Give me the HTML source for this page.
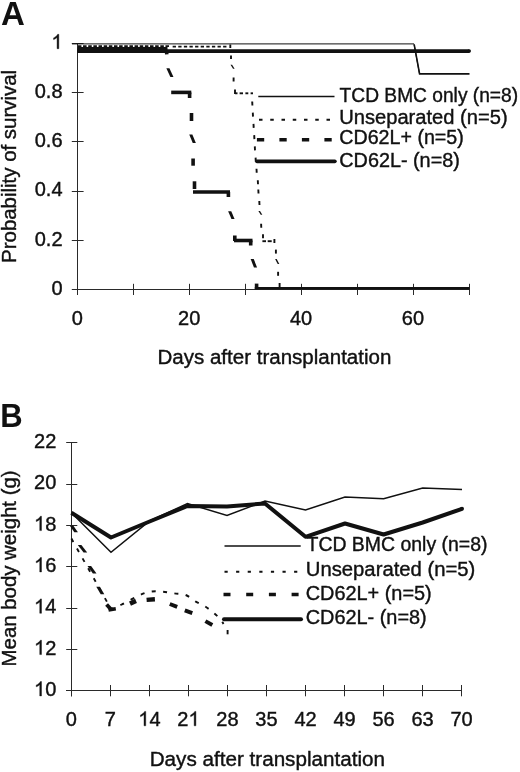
<!DOCTYPE html>
<html><head><meta charset="utf-8"><style>
html,body{margin:0;padding:0;background:#fff;}
svg{display:block;will-change:transform;font-family:"Liberation Sans", sans-serif;}
</style></head><body>
<svg width="520" height="772" viewBox="0 0 520 772">
<rect width="520" height="772" fill="#fff"/>
<line x1="77.50" y1="43.30" x2="77.50" y2="295.00" stroke="#2a2a2a" stroke-width="1.0" stroke-linecap="butt" />
<line x1="71.80" y1="289.50" x2="469.50" y2="289.50" stroke="#2a2a2a" stroke-width="1.0" stroke-linecap="butt" />
<line x1="71.80" y1="240.50" x2="83.60" y2="240.50" stroke="#2a2a2a" stroke-width="1.0" stroke-linecap="butt" />
<line x1="71.80" y1="191.50" x2="83.60" y2="191.50" stroke="#2a2a2a" stroke-width="1.0" stroke-linecap="butt" />
<line x1="71.80" y1="141.50" x2="83.60" y2="141.50" stroke="#2a2a2a" stroke-width="1.0" stroke-linecap="butt" />
<line x1="71.80" y1="92.50" x2="83.60" y2="92.50" stroke="#2a2a2a" stroke-width="1.0" stroke-linecap="butt" />
<line x1="71.80" y1="43.50" x2="83.60" y2="43.50" stroke="#2a2a2a" stroke-width="1.0" stroke-linecap="butt" />
<line x1="77.50" y1="283.80" x2="77.50" y2="295.00" stroke="#2a2a2a" stroke-width="1.0" stroke-linecap="butt" />
<line x1="133.50" y1="283.80" x2="133.50" y2="295.00" stroke="#2a2a2a" stroke-width="1.0" stroke-linecap="butt" />
<line x1="189.50" y1="283.80" x2="189.50" y2="295.00" stroke="#2a2a2a" stroke-width="1.0" stroke-linecap="butt" />
<line x1="245.50" y1="283.80" x2="245.50" y2="295.00" stroke="#2a2a2a" stroke-width="1.0" stroke-linecap="butt" />
<line x1="301.50" y1="283.80" x2="301.50" y2="295.00" stroke="#2a2a2a" stroke-width="1.0" stroke-linecap="butt" />
<line x1="357.50" y1="283.80" x2="357.50" y2="295.00" stroke="#2a2a2a" stroke-width="1.0" stroke-linecap="butt" />
<line x1="413.50" y1="283.80" x2="413.50" y2="295.00" stroke="#2a2a2a" stroke-width="1.0" stroke-linecap="butt" />
<line x1="469.50" y1="283.80" x2="469.50" y2="295.00" stroke="#2a2a2a" stroke-width="1.0" stroke-linecap="butt" />
<path d="M763 0H583V1147Q518 1085 412.5 1023T223 930V1104Q374 1175 487 1276T647 1472H763V0Z" transform="translate(51.38 48.7) scale(0.00977 -0.00977)" fill="#111" stroke="#111" stroke-width="41.0"/>
<text x="0" y="0" transform="translate(34.7 97.89999999999999)" font-size="20" font-weight="normal" fill="#111" stroke="#111" stroke-width="0.4" text-anchor="start" >0.8</text>
<text x="0" y="0" transform="translate(34.7 147.1)" font-size="20" font-weight="normal" fill="#111" stroke="#111" stroke-width="0.4" text-anchor="start" >0.6</text>
<text x="0" y="0" transform="translate(34.7 196.29999999999998)" font-size="20" font-weight="normal" fill="#111" stroke="#111" stroke-width="0.4" text-anchor="start" >0.4</text>
<text x="0" y="0" transform="translate(34.7 245.5)" font-size="20" font-weight="normal" fill="#111" stroke="#111" stroke-width="0.4" text-anchor="start" >0.2</text>
<text x="0" y="0" transform="translate(51.38 294.7)" font-size="20" font-weight="normal" fill="#111" stroke="#111" stroke-width="0.4" text-anchor="start" >0</text>
<text x="0" y="0" transform="translate(71.74 324.8)" font-size="20" font-weight="normal" fill="#111" stroke="#111" stroke-width="0.4" text-anchor="start" >0</text>
<text x="0" y="0" transform="translate(178.06 324.8)" font-size="20" font-weight="normal" fill="#111" stroke="#111" stroke-width="0.4" text-anchor="start" >20</text>
<text x="0" y="0" transform="translate(289.94 324.8)" font-size="20" font-weight="normal" fill="#111" stroke="#111" stroke-width="0.4" text-anchor="start" >40</text>
<text x="0" y="0" transform="translate(401.82 324.8)" font-size="20" font-weight="normal" fill="#111" stroke="#111" stroke-width="0.4" text-anchor="start" >60</text>
<text x="0" y="0" transform="translate(157.4 364.4)" font-size="20" font-weight="normal" fill="#111" stroke="#111" stroke-width="0.4" text-anchor="start" textLength="234" lengthAdjust="spacingAndGlyphs">Days after transplantation</text>
<text x="0" y="0" transform="translate(15.9 262.9) rotate(-90)" font-size="20" font-weight="normal" fill="#111" stroke="#111" stroke-width="0.4" text-anchor="start" textLength="193" lengthAdjust="spacingAndGlyphs">Probability of survival</text>
<text x="0" y="0" transform="translate(1 24.8)" font-size="33" font-weight="bold" fill="#111"  text-anchor="start" >A</text>
<polyline points="72.00,43.90 414.00,43.90 419.50,73.90" fill="none" stroke="#111" stroke-width="1.0" stroke-linecap="butt" stroke-linejoin="miter" />
<polyline points="414.20,44.60 419.60,73.85 469.50,73.85" fill="none" stroke="#111" stroke-width="1.6" stroke-linecap="butt" stroke-linejoin="miter" />
<line x1="77.30" y1="51.10" x2="469.20" y2="51.10" stroke="#111" stroke-width="3.6" stroke-linecap="butt" />
<circle cx="469.2" cy="51.1" r="1.8" fill="#111"/>
<line x1="77.50" y1="49.30" x2="167.50" y2="49.30" stroke="#111" stroke-width="4.8" stroke-linecap="butt" />
<line x1="171.20" y1="92.40" x2="191.30" y2="92.40" stroke="#111" stroke-width="3.6" stroke-linecap="butt" />
<line x1="193.00" y1="192.00" x2="230.00" y2="192.00" stroke="#111" stroke-width="3.6" stroke-linecap="butt" />
<line x1="234.00" y1="240.50" x2="252.50" y2="240.50" stroke="#111" stroke-width="3.6" stroke-linecap="butt" />
<line x1="254.80" y1="288.30" x2="469.50" y2="288.30" stroke="#111" stroke-width="2.6" stroke-linecap="butt" />
<line x1="166.50" y1="51.00" x2="166.80" y2="54.40" stroke="#111" stroke-width="3.6" stroke-linecap="butt" />
<polygon points="166.35,68.30 169.45,68.30 173.45,76.90 170.35,76.90" fill="#111"/>
<line x1="189.60" y1="92.40" x2="189.60" y2="98.00" stroke="#111" stroke-width="3.6" stroke-linecap="butt" />
<line x1="191.50" y1="113.00" x2="191.50" y2="121.00" stroke="#111" stroke-width="3.6" stroke-linecap="butt" />
<polygon points="189.25,134.40 192.35,134.40 195.85,143.00 192.75,143.00" fill="#111"/>
<line x1="193.10" y1="158.50" x2="193.10" y2="165.70" stroke="#111" stroke-width="3.6" stroke-linecap="butt" />
<line x1="194.50" y1="181.30" x2="194.50" y2="189.00" stroke="#111" stroke-width="3.6" stroke-linecap="butt" />
<line x1="228.40" y1="192.00" x2="228.40" y2="197.00" stroke="#111" stroke-width="3.6" stroke-linecap="butt" />
<polygon points="228.15,211.30 231.25,211.30 234.55,219.10 231.45,219.10" fill="#111"/>
<line x1="234.80" y1="235.50" x2="234.80" y2="241.00" stroke="#111" stroke-width="3.6" stroke-linecap="butt" />
<line x1="250.70" y1="240.50" x2="250.70" y2="245.50" stroke="#111" stroke-width="3.6" stroke-linecap="butt" />
<polygon points="250.65,259.00 253.75,259.00 257.05,267.60 253.95,267.60" fill="#111"/>
<line x1="256.60" y1="283.60" x2="256.60" y2="289.00" stroke="#111" stroke-width="3.6" stroke-linecap="butt" />
<line x1="77.90" y1="46.10" x2="169.00" y2="46.10" stroke="#111" stroke-width="1.6" stroke-linecap="butt" stroke-dasharray="3.55 1.6"/>
<line x1="172.65" y1="46.65" x2="228.50" y2="46.65" stroke="#111" stroke-width="1.9" stroke-linecap="butt" stroke-dasharray="3.3 2.31"/>
<line x1="230.30" y1="44.50" x2="230.30" y2="48.00" stroke="#111" stroke-width="1.9" stroke-linecap="butt" />
<line x1="231.00" y1="55.60" x2="231.00" y2="59.00" stroke="#111" stroke-width="1.9" stroke-linecap="butt" />
<polygon points="230.50,64.80 232.10,64.80 234.60,68.80 233.00,68.80" fill="#111"/>
<line x1="233.60" y1="77.50" x2="233.60" y2="81.50" stroke="#111" stroke-width="1.9" stroke-linecap="butt" />
<line x1="235.00" y1="89.60" x2="235.00" y2="94.00" stroke="#111" stroke-width="1.9" stroke-linecap="butt" />
<line x1="235.00" y1="93.30" x2="237.50" y2="93.30" stroke="#111" stroke-width="1.9" stroke-linecap="butt" />
<line x1="239.60" y1="93.30" x2="243.00" y2="93.30" stroke="#111" stroke-width="1.9" stroke-linecap="butt" />
<line x1="245.40" y1="93.30" x2="248.30" y2="93.30" stroke="#111" stroke-width="1.9" stroke-linecap="butt" />
<line x1="250.60" y1="93.30" x2="253.00" y2="93.30" stroke="#111" stroke-width="1.9" stroke-linecap="butt" />
<line x1="252.20" y1="101.50" x2="252.40" y2="105.50" stroke="#111" stroke-width="1.9" stroke-linecap="butt" />
<line x1="252.80" y1="112.60" x2="253.00" y2="116.60" stroke="#111" stroke-width="1.9" stroke-linecap="butt" />
<line x1="253.50" y1="123.90" x2="253.70" y2="127.90" stroke="#111" stroke-width="1.9" stroke-linecap="butt" />
<line x1="254.20" y1="135.10" x2="254.40" y2="139.10" stroke="#111" stroke-width="1.9" stroke-linecap="butt" />
<line x1="254.80" y1="146.40" x2="255.00" y2="150.40" stroke="#111" stroke-width="1.9" stroke-linecap="butt" />
<line x1="255.60" y1="157.60" x2="255.80" y2="161.60" stroke="#111" stroke-width="1.9" stroke-linecap="butt" />
<line x1="256.50" y1="168.80" x2="256.70" y2="172.80" stroke="#111" stroke-width="1.9" stroke-linecap="butt" />
<line x1="257.80" y1="180.30" x2="258.00" y2="184.30" stroke="#111" stroke-width="1.9" stroke-linecap="butt" />
<line x1="258.30" y1="189.50" x2="258.50" y2="193.50" stroke="#111" stroke-width="1.9" stroke-linecap="butt" />
<line x1="259.30" y1="201.00" x2="259.50" y2="205.00" stroke="#111" stroke-width="1.9" stroke-linecap="butt" />
<polygon points="258.40,211.00 260.00,211.00 262.30,214.80 260.70,214.80" fill="#111"/>
<line x1="261.10" y1="223.80" x2="261.30" y2="227.80" stroke="#111" stroke-width="1.9" stroke-linecap="butt" />
<line x1="263.00" y1="234.30" x2="263.00" y2="238.30" stroke="#111" stroke-width="1.9" stroke-linecap="butt" />
<line x1="262.40" y1="241.20" x2="266.00" y2="241.20" stroke="#111" stroke-width="1.9" stroke-linecap="butt" />
<line x1="267.70" y1="241.20" x2="271.70" y2="241.20" stroke="#111" stroke-width="1.9" stroke-linecap="butt" />
<line x1="274.40" y1="239.00" x2="274.40" y2="243.00" stroke="#111" stroke-width="1.9" stroke-linecap="butt" />
<line x1="275.90" y1="249.60" x2="275.90" y2="253.60" stroke="#111" stroke-width="1.9" stroke-linecap="butt" />
<polygon points="275.10,259.00 276.70,259.00 279.30,264.00 277.70,264.00" fill="#111"/>
<line x1="278.10" y1="271.80" x2="278.10" y2="275.80" stroke="#111" stroke-width="1.9" stroke-linecap="butt" />
<line x1="279.60" y1="283.00" x2="279.60" y2="288.00" stroke="#111" stroke-width="1.9" stroke-linecap="butt" />
<line x1="258.30" y1="96.40" x2="334.50" y2="96.40" stroke="#111" stroke-width="1.45" stroke-linecap="butt" />
<line x1="259.00" y1="119.80" x2="334.50" y2="119.80" stroke="#111" stroke-width="2.0" stroke-linecap="butt" stroke-dasharray="3.5 7.75"/>
<line x1="256.90" y1="139.70" x2="334.50" y2="139.70" stroke="#111" stroke-width="3.6" stroke-linecap="butt" stroke-dasharray="7.3 15.2"/>
<line x1="257.00" y1="161.30" x2="334.80" y2="161.30" stroke="#111" stroke-width="3.8" stroke-linecap="round" />
<text x="0" y="0" transform="translate(339.6 101.6)" font-size="20" font-weight="normal" fill="#111" stroke="#111" stroke-width="0.4" text-anchor="start" textLength="178.5" lengthAdjust="spacingAndGlyphs">TCD BMC only (n=8)</text>
<text x="0" y="0" transform="translate(339.2 124)" font-size="20" font-weight="normal" fill="#111" stroke="#111" stroke-width="0.4" text-anchor="start" textLength="168.5" lengthAdjust="spacingAndGlyphs">Unseparated (n=5)</text>
<text x="0" y="0" transform="translate(339.3 144.4)" font-size="20" font-weight="normal" fill="#111" stroke="#111" stroke-width="0.4" text-anchor="start" textLength="124.5" lengthAdjust="spacingAndGlyphs">CD62L+ (n=5)</text>
<text x="0" y="0" transform="translate(339.3 166.5)" font-size="20" font-weight="normal" fill="#111" stroke="#111" stroke-width="0.4" text-anchor="start" textLength="120.5" lengthAdjust="spacingAndGlyphs">CD62L- (n=8)</text>
<line x1="71.50" y1="442.50" x2="71.50" y2="696.30" stroke="#2a2a2a" stroke-width="1.0" stroke-linecap="butt" />
<line x1="66.00" y1="690.50" x2="461.90" y2="690.50" stroke="#2a2a2a" stroke-width="1.0" stroke-linecap="butt" />
<line x1="66.20" y1="690.50" x2="77.30" y2="690.50" stroke="#2a2a2a" stroke-width="1.0" stroke-linecap="butt" />
<line x1="66.20" y1="649.50" x2="77.30" y2="649.50" stroke="#2a2a2a" stroke-width="1.0" stroke-linecap="butt" />
<line x1="66.20" y1="608.50" x2="77.30" y2="608.50" stroke="#2a2a2a" stroke-width="1.0" stroke-linecap="butt" />
<line x1="66.20" y1="566.50" x2="77.30" y2="566.50" stroke="#2a2a2a" stroke-width="1.0" stroke-linecap="butt" />
<line x1="66.20" y1="525.50" x2="77.30" y2="525.50" stroke="#2a2a2a" stroke-width="1.0" stroke-linecap="butt" />
<line x1="66.20" y1="484.50" x2="77.30" y2="484.50" stroke="#2a2a2a" stroke-width="1.0" stroke-linecap="butt" />
<line x1="66.20" y1="442.50" x2="77.30" y2="442.50" stroke="#2a2a2a" stroke-width="1.0" stroke-linecap="butt" />
<line x1="71.50" y1="685.00" x2="71.50" y2="696.30" stroke="#2a2a2a" stroke-width="1.0" stroke-linecap="butt" />
<line x1="110.50" y1="685.00" x2="110.50" y2="696.30" stroke="#2a2a2a" stroke-width="1.0" stroke-linecap="butt" />
<line x1="149.50" y1="685.00" x2="149.50" y2="696.30" stroke="#2a2a2a" stroke-width="1.0" stroke-linecap="butt" />
<line x1="188.50" y1="685.00" x2="188.50" y2="696.30" stroke="#2a2a2a" stroke-width="1.0" stroke-linecap="butt" />
<line x1="227.50" y1="685.00" x2="227.50" y2="696.30" stroke="#2a2a2a" stroke-width="1.0" stroke-linecap="butt" />
<line x1="266.50" y1="685.00" x2="266.50" y2="696.30" stroke="#2a2a2a" stroke-width="1.0" stroke-linecap="butt" />
<line x1="305.50" y1="685.00" x2="305.50" y2="696.30" stroke="#2a2a2a" stroke-width="1.0" stroke-linecap="butt" />
<line x1="344.50" y1="685.00" x2="344.50" y2="696.30" stroke="#2a2a2a" stroke-width="1.0" stroke-linecap="butt" />
<line x1="383.50" y1="685.00" x2="383.50" y2="696.30" stroke="#2a2a2a" stroke-width="1.0" stroke-linecap="butt" />
<line x1="422.50" y1="685.00" x2="422.50" y2="696.30" stroke="#2a2a2a" stroke-width="1.0" stroke-linecap="butt" />
<line x1="461.50" y1="685.00" x2="461.50" y2="696.30" stroke="#2a2a2a" stroke-width="1.0" stroke-linecap="butt" />
<path d="M763 0H583V1147Q518 1085 412.5 1023T223 930V1104Q374 1175 487 1276T647 1472H763V0Z" transform="translate(34.05 695.9000000000001) scale(0.00977 -0.00977)" fill="#111" stroke="#111" stroke-width="41.0"/>
<text x="0" y="0" transform="translate(45.18 695.9000000000001)" font-size="20" font-weight="normal" fill="#111" stroke="#111" stroke-width="0.4" text-anchor="start" >0</text>
<path d="M763 0H583V1147Q518 1085 412.5 1023T223 930V1104Q374 1175 487 1276T647 1472H763V0Z" transform="translate(34.05 654.58) scale(0.00977 -0.00977)" fill="#111" stroke="#111" stroke-width="41.0"/>
<text x="0" y="0" transform="translate(45.18 654.58)" font-size="20" font-weight="normal" fill="#111" stroke="#111" stroke-width="0.4" text-anchor="start" >2</text>
<path d="M763 0H583V1147Q518 1085 412.5 1023T223 930V1104Q374 1175 487 1276T647 1472H763V0Z" transform="translate(34.05 613.2600000000001) scale(0.00977 -0.00977)" fill="#111" stroke="#111" stroke-width="41.0"/>
<text x="0" y="0" transform="translate(45.18 613.2600000000001)" font-size="20" font-weight="normal" fill="#111" stroke="#111" stroke-width="0.4" text-anchor="start" >4</text>
<path d="M763 0H583V1147Q518 1085 412.5 1023T223 930V1104Q374 1175 487 1276T647 1472H763V0Z" transform="translate(34.05 571.94) scale(0.00977 -0.00977)" fill="#111" stroke="#111" stroke-width="41.0"/>
<text x="0" y="0" transform="translate(45.18 571.94)" font-size="20" font-weight="normal" fill="#111" stroke="#111" stroke-width="0.4" text-anchor="start" >6</text>
<path d="M763 0H583V1147Q518 1085 412.5 1023T223 930V1104Q374 1175 487 1276T647 1472H763V0Z" transform="translate(34.05 530.6200000000001) scale(0.00977 -0.00977)" fill="#111" stroke="#111" stroke-width="41.0"/>
<text x="0" y="0" transform="translate(45.18 530.6200000000001)" font-size="20" font-weight="normal" fill="#111" stroke="#111" stroke-width="0.4" text-anchor="start" >8</text>
<text x="0" y="0" transform="translate(34.05 489.3)" font-size="20" font-weight="normal" fill="#111" stroke="#111" stroke-width="0.4" text-anchor="start" >20</text>
<text x="0" y="0" transform="translate(34.05 447.98)" font-size="20" font-weight="normal" fill="#111" stroke="#111" stroke-width="0.4" text-anchor="start" >22</text>
<text x="0" y="0" transform="translate(65.84 725.8)" font-size="20" font-weight="normal" fill="#111" stroke="#111" stroke-width="0.4" text-anchor="start" >0</text>
<text x="0" y="0" transform="translate(104.86 725.8)" font-size="20" font-weight="normal" fill="#111" stroke="#111" stroke-width="0.4" text-anchor="start" >7</text>
<path d="M763 0H583V1147Q518 1085 412.5 1023T223 930V1104Q374 1175 487 1276T647 1472H763V0Z" transform="translate(138.31 725.8) scale(0.00977 -0.00977)" fill="#111" stroke="#111" stroke-width="41.0"/>
<text x="0" y="0" transform="translate(149.44 725.8)" font-size="20" font-weight="normal" fill="#111" stroke="#111" stroke-width="0.4" text-anchor="start" >4</text>
<text x="0" y="0" transform="translate(177.33 725.8)" font-size="20" font-weight="normal" fill="#111" stroke="#111" stroke-width="0.4" text-anchor="start" >2</text>
<path d="M763 0H583V1147Q518 1085 412.5 1023T223 930V1104Q374 1175 487 1276T647 1472H763V0Z" transform="translate(188.45 725.8) scale(0.00977 -0.00977)" fill="#111" stroke="#111" stroke-width="41.0"/>
<text x="0" y="0" transform="translate(216.35 725.8)" font-size="20" font-weight="normal" fill="#111" stroke="#111" stroke-width="0.4" text-anchor="start" >28</text>
<text x="0" y="0" transform="translate(255.37 725.8)" font-size="20" font-weight="normal" fill="#111" stroke="#111" stroke-width="0.4" text-anchor="start" >35</text>
<text x="0" y="0" transform="translate(294.38 725.8)" font-size="20" font-weight="normal" fill="#111" stroke="#111" stroke-width="0.4" text-anchor="start" >42</text>
<text x="0" y="0" transform="translate(333.4 725.8)" font-size="20" font-weight="normal" fill="#111" stroke="#111" stroke-width="0.4" text-anchor="start" >49</text>
<text x="0" y="0" transform="translate(372.42 725.8)" font-size="20" font-weight="normal" fill="#111" stroke="#111" stroke-width="0.4" text-anchor="start" >56</text>
<text x="0" y="0" transform="translate(411.44 725.8)" font-size="20" font-weight="normal" fill="#111" stroke="#111" stroke-width="0.4" text-anchor="start" >63</text>
<text x="0" y="0" transform="translate(450.46 725.8)" font-size="20" font-weight="normal" fill="#111" stroke="#111" stroke-width="0.4" text-anchor="start" >70</text>
<text x="0" y="0" transform="translate(149.7 765.5)" font-size="20" font-weight="normal" fill="#111" stroke="#111" stroke-width="0.4" text-anchor="start" textLength="235.3" lengthAdjust="spacingAndGlyphs">Days after transplantation</text>
<text x="0" y="0" transform="translate(15.9 666.4) rotate(-90)" font-size="20" font-weight="normal" fill="#111" stroke="#111" stroke-width="0.4" text-anchor="start" textLength="196" lengthAdjust="spacingAndGlyphs">Mean body weight (g)</text>
<text x="0" y="0" transform="translate(0.2 426.8) scale(0.94 1)" font-size="33" font-weight="bold" fill="#111"  text-anchor="start" >B</text>
<polyline points="71.40,512.80 111.00,552.30 149.60,521.00 187.50,503.50 227.00,515.50 265.00,501.00 305.50,510.00 345.00,497.00 383.60,498.80 422.70,488.00 462.00,489.60" fill="none" stroke="#111" stroke-width="1.5" stroke-linecap="butt" stroke-linejoin="miter" />
<polyline points="71.40,512.80 111.00,537.50 149.60,521.50 187.50,506.00 227.00,506.50 265.00,503.50 305.50,536.80 345.00,523.50 383.60,534.50 422.70,522.50 462.00,508.80" fill="none" stroke="#111" stroke-width="4.0" stroke-linecap="butt" stroke-linejoin="round" />
<circle cx="462" cy="508.8" r="2" fill="#111"/>
<path d="M71.40,538.50 L111.00,609.00 C112.78,608.25 116.65,606.93 121.70,604.50 C126.75,602.07 136.30,596.57 141.30,594.40 C146.30,592.23 148.08,591.95 151.70,591.50 C155.32,591.05 159.25,591.38 163.00,591.70 C166.75,592.02 170.42,592.85 174.20,593.40 C177.98,593.95 182.10,593.63 185.70,595.00 C189.30,596.37 192.48,599.63 195.80,601.60 C199.12,603.57 202.50,604.82 205.60,606.80 C208.70,608.78 211.83,611.30 214.40,613.50 C216.97,615.70 219.48,618.25 221.00,620.00 C222.52,621.75 223.08,623.33 223.50,624.00" fill="none" stroke="#111" stroke-width="1.9" stroke-linecap="butt" stroke-linejoin="miter" stroke-dasharray="4 7.4" stroke-dashoffset="0"/>
<line x1="227.60" y1="630.00" x2="227.60" y2="634.30" stroke="#111" stroke-width="1.9" stroke-linecap="butt" />
<polygon points="69.80,525.80 73.40,525.80 77.90,532.20 74.30,532.20" fill="#111"/>
<polygon points="77.80,544.90 81.40,544.90 87.20,552.40 83.60,552.40" fill="#111"/>
<polygon points="87.50,565.90 91.10,565.90 96.50,573.40 92.90,573.40" fill="#111"/>
<polygon points="96.30,586.80 99.90,586.80 104.30,594.20 100.70,594.20" fill="#111"/>
<line x1="106.60" y1="604.50" x2="111.30" y2="609.80" stroke="#111" stroke-width="3.8" stroke-linecap="butt" />
<line x1="108.50" y1="610.00" x2="115.80" y2="608.80" stroke="#111" stroke-width="3.6" stroke-linecap="butt" />
<line x1="130.00" y1="603.60" x2="136.00" y2="600.90" stroke="#111" stroke-width="4.6" stroke-linecap="butt" />
<line x1="146.60" y1="599.90" x2="154.90" y2="599.30" stroke="#111" stroke-width="4.4" stroke-linecap="butt" />
<line x1="169.80" y1="604.00" x2="177.20" y2="606.90" stroke="#111" stroke-width="3.9" stroke-linecap="butt" />
<line x1="184.80" y1="610.40" x2="192.30" y2="613.20" stroke="#111" stroke-width="3.9" stroke-linecap="butt" />
<line x1="205.40" y1="621.10" x2="212.30" y2="625.00" stroke="#111" stroke-width="3.9" stroke-linecap="butt" />
<line x1="224.50" y1="545.90" x2="300.70" y2="545.90" stroke="#111" stroke-width="1.5" stroke-linecap="butt" />
<line x1="224.50" y1="571.70" x2="300.70" y2="571.70" stroke="#111" stroke-width="2.0" stroke-linecap="butt" stroke-dasharray="3.2 8.4"/>
<line x1="223.50" y1="594.50" x2="300.70" y2="594.50" stroke="#111" stroke-width="3.6" stroke-linecap="butt" stroke-dasharray="7 15.7"/>
<line x1="224.00" y1="619.30" x2="301.00" y2="619.30" stroke="#111" stroke-width="4.0" stroke-linecap="round" />
<text x="0" y="0" transform="translate(306.5 551)" font-size="20" font-weight="normal" fill="#111" stroke="#111" stroke-width="0.4" text-anchor="start" textLength="181" lengthAdjust="spacingAndGlyphs">TCD BMC only (n=8)</text>
<text x="0" y="0" transform="translate(305.8 575.5)" font-size="20" font-weight="normal" fill="#111" stroke="#111" stroke-width="0.4" text-anchor="start" textLength="169.5" lengthAdjust="spacingAndGlyphs">Unseparated (n=5)</text>
<text x="0" y="0" transform="translate(305.7 599.5)" font-size="20" font-weight="normal" fill="#111" stroke="#111" stroke-width="0.4" text-anchor="start" textLength="126" lengthAdjust="spacingAndGlyphs">CD62L+ (n=5)</text>
<text x="0" y="0" transform="translate(305.7 624)" font-size="20" font-weight="normal" fill="#111" stroke="#111" stroke-width="0.4" text-anchor="start" textLength="121" lengthAdjust="spacingAndGlyphs">CD62L- (n=8)</text>
</svg>
</body></html>
